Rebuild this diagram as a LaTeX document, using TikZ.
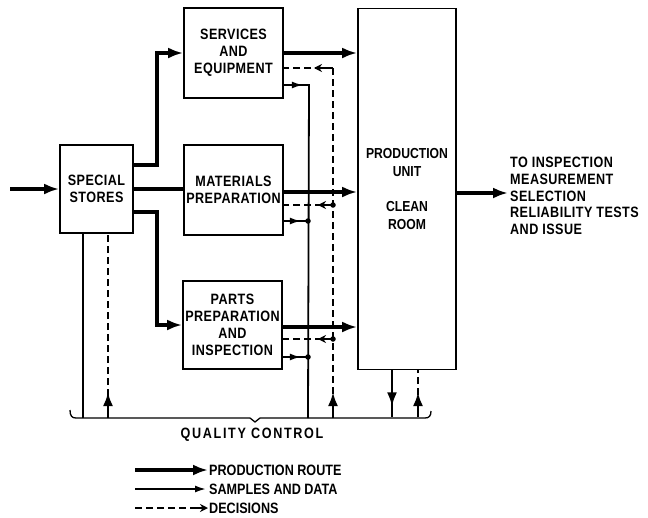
\documentclass[tikz,border=0pt]{standalone}
\usepackage{fontspec}
\setmainfont{Liberation Sans}[FakeStretch=0.84]
\usetikzlibrary{arrows.meta,calc}
\begin{document}
\begin{tikzpicture}[x=1pt,y=-1pt,
  every node/.style={font=\fontsize{15}{17}\selectfont\bfseries\addfontfeatures{LetterSpace=3},inner sep=0pt},
  blk/.style={draw,line width=1.8pt,align=center},
  route/.style={line width=4pt},
  routearr/.style={route,-{Latex[length=15pt,width=11pt]}},
  samp/.style={line width=1.8pt},
  samparr/.style={samp,-{Latex[length=11pt,width=7pt]}},
  bigarr/.style={line width=2.6pt,-{Latex[length=14pt,width=10pt]}},
  dec/.style={line width=1.7pt,dash pattern=on 7pt off 4pt},
  decarr/.style={line width=1.7pt,-{Stealth[length=8pt,width=8pt]}},
  jdot/.style={circle,fill,inner sep=0pt,minimum size=5.5pt},
]
\useasboundingbox (0,0) rectangle (648,517);

% blocks
\node[blk,minimum width=73pt,minimum height=88pt] (stores) at (96.5,189) {SPECIAL\\STORES};
\node[blk,minimum width=99pt,minimum height=90pt] (services) at (233.5,53) {SERVICES\\AND\\EQUIPMENT};
\node[blk,minimum width=99pt,minimum height=90pt] (materials) at (233.5,190) {MATERIALS\\PREPARATION};
\node[blk,minimum width=99pt,minimum height=88pt] (parts) at (232.5,325) {PARTS\\PREPARATION\\AND\\INSPECTION};
\node[blk,minimum width=98pt,minimum height=361pt,font=\fontsize{14.5}{18.5}\selectfont\bfseries] (prod) at (407,189) {PRODUCTION\\UNIT\\[16pt]CLEAN\\ROOM};
\node[align=left,anchor=west,font=\fontsize{15}{16.6}\selectfont\bfseries\addfontfeatures{LetterSpace=3}] (out) at (510,196) {TO INSPECTION\\MEASUREMENT\\SELECTION\\RELIABILITY TESTS\\AND ISSUE};
\coordinate (oa) at ([yshift=3pt]out.west);

% production route
\coordinate (in) at (10,189);
\draw[routearr] (in) -- (stores.west);
\draw[routearr] ([yshift=24pt]stores.east) -| ([xshift=-26pt]services.west) -- (services.west);
\draw[route] (stores.east) -- (stores.east -| materials.west);
\draw[routearr] ([yshift=-23pt]stores.east) -| ([xshift=-25pt]parts.west) -- (parts.west);
\draw[routearr] (services.east) -- (services.east -| prod.west);
\draw[routearr] ([yshift=-2pt]materials.east) -- ([yshift=-2pt]materials.east -| prod.west);
\draw[routearr] ([yshift=-2pt]parts.east) -- ([yshift=-2pt]parts.east -| prod.west);
\draw[routearr] (prod.east |- oa) -- ([xshift=-2pt]oa);

% samples and data
\coordinate (stop) at (309,85);
\coordinate (sm) at (308,221);
\coordinate (sp) at (308,357);
\coordinate (sbot) at (308,418);
\draw[samp] ([yshift=-32pt]services.east) -- (stop) -- (sbot);
\draw[samparr] ([yshift=-32pt]services.east) -- ++(19,0);
\draw[samp] ([yshift=-31pt]materials.east) -- (sm);
\draw[samparr] ([yshift=-31pt]materials.east) -- ++(17,0);
\draw[samp] ([yshift=-32pt]parts.east) -- (sp);
\draw[samparr] ([yshift=-32pt]parts.east) -- ++(18,0);
\node[jdot] (jm) at (sm) {};
\node[jdot] (jp) at (sp) {};

% decisions
\coordinate (dtop) at (333,68);
\coordinate (dm) at (333,205);
\coordinate (dp) at (333,339);
\coordinate (dbot) at (333,418);
\draw[dec] (dtop) -- (dbot);
\draw[dec] (dtop) -- (services.east |- dtop);
\draw[decarr] (dtop) -- ++(-19,0);
\draw[dec] (dm) -- (materials.east |- dm);
\draw[decarr] (dm) -- ++(-15,0);
\draw[dec] (dp) -- (parts.east |- dp);
\draw[decarr] (dp) -- ++(-15,0);
\node[jdot] (jdm) at (dm) {};
\node[jdot] (jdp) at (dp) {};
\draw[bigarr] (dbot) -- ++(0,-26);

% special stores to quality control
\coordinate (ql) at (83,418);
\coordinate (qld) at (108,418);
\draw[samp] ([xshift=-13.5pt]stores.south) -- (ql);
\draw[dec] (qld) -- ([xshift=11.5pt]stores.south);
\draw[bigarr] (qld) -- ++(0,-26);

% production unit to quality control
\coordinate (pd) at (392,417);
\coordinate (pu) at (418,417);
\draw[samp] ([xshift=-15pt]prod.south) -- (pd);
\draw[bigarr] ([xshift=-15pt]prod.south) -- ++(0,36);
\draw[dec] (pu) -- ([xshift=11pt]prod.south);
\draw[bigarr] (pu) -- ++(0,-25);

% quality control bracket
\draw[line width=1.3pt] (70,410) .. controls (70,416) and (72,418) .. (76,418) -- (250,418) -- (255,422) -- (260,418) -- (425,418) .. controls (429,418) and (431,416) .. (431,411);
\node[font=\fontsize{15}{16}\selectfont\bfseries\addfontfeatures{LetterSpace=11}] (qc) at (252,435) {QUALITY CONTROL};

% legend
\coordinate (l1) at (135,470);
\coordinate (l2) at (135,489);
\coordinate (l3) at (135,508);
\node[anchor=west,font=\fontsize{15}{16}\selectfont\bfseries] (t1) at (209,470) {PRODUCTION ROUTE};
\node[anchor=west,font=\fontsize{15}{16}\selectfont\bfseries] (t2) at (209,489) {SAMPLES AND DATA};
\node[anchor=west,font=\fontsize{15}{16}\selectfont\bfseries] (t3) at (209,508) {DECISIONS};
\draw[routearr] (l1) -- ([xshift=-1pt]t1.west);
\draw[samparr] (l2) -- ([xshift=-3pt]t2.west);
\draw[dec] (l3) -- ([xshift=-8pt]t3.west);
\draw[decarr] ([xshift=-14pt]t3.west) -- ([xshift=-1pt]t3.west);
\end{tikzpicture}
\end{document}
